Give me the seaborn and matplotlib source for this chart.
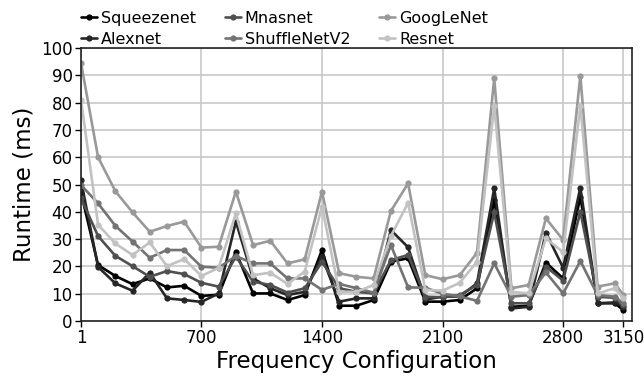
import numpy as np
import pandas as pd
import matplotlib
matplotlib.use("Agg")
import matplotlib.pyplot as plt
import seaborn as sns

x_vals = [1, 100, 200, 300, 400, 500, 600, 700, 800, 900, 1000, 1100, 1200, 1300, 1400,
          1500, 1600, 1700, 1800, 1900, 2000, 2100, 2200, 2300, 2400, 2500, 2600, 2700,
          2800, 2900, 3000, 3100, 3150]

squeezenet = [47, 20.5, 16.5, 13.5, 15.6, 12.3, 12.9, 9.2, 9.6, 25.4, 10.1, 10.1, 7.7, 9.5, 26,
              5.6, 5.6, 7.7, 21.7, 23, 7.1, 7.1, 7.7, 12, 44.3, 5.2, 5.6, 21.4, 15.6, 45.5,
              6.5, 6.5, 4]
alexnet = [51.5, 19.8, 13.8, 11.1, 17.7, 8.3, 7.7, 7, 10.1, 36.4, 15.6, 12, 9.5, 10.7, 23.6,
           7.1, 8.3, 8.3, 33.3, 27, 7.9, 8.9, 9, 13.8, 48.6, 4.6, 5.2, 32.4, 19.5, 48.9,
           6.5, 6.8, 5.2]
mnasnet = [45, 31.1, 23.9, 20.1, 16.2, 18.3, 17.2, 14, 12.6, 23.6, 14.4, 13.2, 10.4, 12, 21.7,
           12, 10.7, 10.1, 22.3, 24.2, 8.9, 8.7, 9.5, 13.2, 39.8, 6.5, 6.5, 19.9, 14.8, 40,
           8.9, 8.5, 5.8]
shufflenet = [49.8, 43.1, 34.9, 29.1, 23.2, 26, 26, 19.9, 19.5, 23.8, 21.1, 21.1, 15.6, 15.6, 11.4,
              13.6, 12, 10.4, 27.8, 12.3, 12.2, 10, 9, 7.4, 21.1, 8.9, 9.5, 17.8, 10.1, 22,
              9.5, 8.9, 6.5]
googlenet = [94.5, 60, 47.6, 39.8, 32.7, 34.8, 36.4, 26.9, 27.2, 47.4, 27.8, 29.4, 21.1, 22.6, 47.4,
             17.5, 16.2, 15.6, 40.3, 50.4, 16.8, 15.3, 16.8, 25, 88.9, 12, 13.2, 37.6, 29.7, 89.9,
             12.6, 13.8, 9.5]
resnet = [81, 35.3, 28.4, 24.2, 28.8, 20.1, 22.7, 16.5, 19.5, 39.4, 16.8, 17.7, 13.6, 18.1, 41.9,
          10.7, 10.7, 13.2, 31.1, 43.3, 11.4, 11.1, 14, 21.7, 78.9, 10.7, 10.1, 30.3, 25.2, 78.9,
          10.1, 12, 8.3]

names = ["Squeezenet", "Alexnet", "Mnasnet", "ShuffleNetV2", "GoogLeNet", "Resnet"]
series = [squeezenet, alexnet, mnasnet, shufflenet, googlenet, resnet]
colors = ["#000000", "#262626", "#4f4f4f", "#737373", "#999999", "#c2c2c2"]
xticks = [1, 700, 1400, 2100, 2800, 3150]

rows = []
for n, s in zip(names, series):
    for xv, yv in zip(x_vals, s):
        rows.append({"freq": xv, "runtime": yv, "model": n})
df = pd.DataFrame(rows)

sns.set_theme(style="whitegrid")
plt.rcParams['font.family'] = ['DejaVu Sans']
plt.rcParams['text.color'] = 'black'
plt.rcParams['axes.labelcolor'] = 'black'
plt.rcParams['xtick.color'] = 'black'
plt.rcParams['ytick.color'] = 'black'

fig = plt.figure(figsize=(6.44, 3.77), dpi=100)
ax = fig.add_axes([0.1258, 0.1485, 0.8556, 0.7242])

sns.lineplot(data=df, x="freq", y="runtime", hue="model", hue_order=names,
             palette=dict(zip(names, colors)), marker="o", markersize=4.5,
             markeredgewidth=0, linewidth=1.9, ax=ax)

ax.set_xlim(1, 3200)
ax.set_ylim(0, 100)
ax.set_xticks(xticks)
ax.set_xticklabels([str(t) for t in xticks])
ax.set_yticks(range(0, 101, 10))
ax.tick_params(axis='both', labelsize=12, length=4, width=1, color='black',
               labelcolor='black', bottom=True, left=True, pad=2)
ax.set_xlabel("Frequency Configuration", fontsize=16.5, labelpad=2, color='black')
ax.set_ylabel("Runtime (ms)", fontsize=16.5, labelpad=4, color='black')
ax.grid(True, color="#c8c8c8", linewidth=1.2)
for sp in ax.spines.values():
    sp.set_color("#222222")
    sp.set_linewidth(1.2)

handles, labels = ax.get_legend_handles_labels()
leg = ax.legend(handles, labels, ncol=3, loc="lower left", bbox_to_anchor=(0.0, 1.005),
                frameon=False, fontsize=11.5, handlelength=1.0, handletextpad=0.25,
                columnspacing=1.8, labelspacing=0.35, borderaxespad=0, borderpad=0)
for t in leg.get_texts():
    t.set_color('black')

fig.savefig("out.png", dpi=100)
